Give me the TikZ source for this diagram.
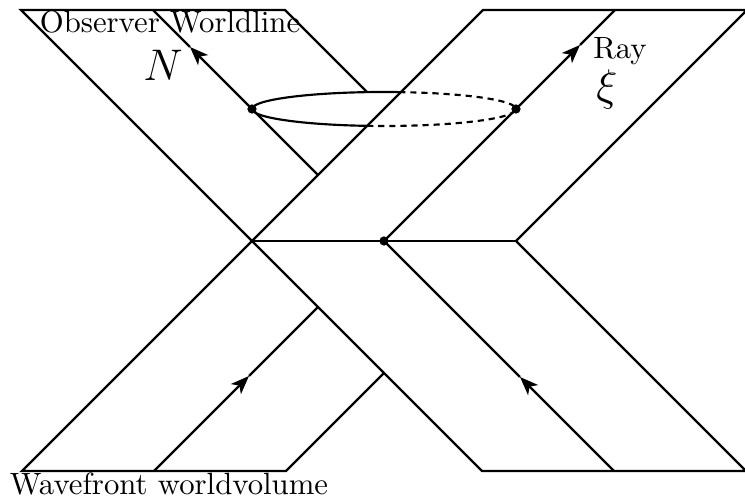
\documentclass[tikz,border=0pt]{standalone}
\usetikzlibrary{arrows.meta}
\begin{document}
\begin{tikzpicture}[x=0.325pt,y=0.325pt, line width=0.7pt, line join=miter,
  arr/.style={-{Stealth[length=6pt,width=4.6pt,inset=1.6pt]}},
  hid/.style={dash pattern=on 2pt off 1.6pt},
  dot/.style={circle,fill,inner sep=0pt,minimum size=3pt},
  lab/.style={inner sep=0pt, anchor=base}]
\useasboundingbox (0,0) rectangle (745,500);
% key points
\coordinate (O) at (252,259);
\coordinate (M) at (384,259);
\coordinate (R) at (516,259);
% upper-left sheet (observer)
\coordinate (ULa) at (21,490);
\coordinate (ULb) at (153,490);
\coordinate (ULc) at (285,490);
\coordinate (ULbEnd) at (318,325);
\coordinate (ULcEnd) at (367,408);
\coordinate (Ntip) at (190,453);
% upper-right sheet (ray)
\coordinate (URa) at (483,490);
\coordinate (URb) at (615,490);
\coordinate (URc) at (747,490);
\coordinate (Xtip) at (580,455);
% lower-left sheet
\coordinate (LLa) at (22,29);
\coordinate (LLb) at (154,29);
\coordinate (LLc) at (286,29);
\coordinate (LLbEnd) at (318,193);
\coordinate (LLcEnd) at (384,127);
\coordinate (LLtip) at (249,124);
% lower-right sheet
\coordinate (LRa) at (482,29);
\coordinate (LRb) at (614,29);
\coordinate (LRc) at (746,29);
\coordinate (LRtip) at (520,123);
% ellipse
\coordinate (C) at (384,391);

% upper-left sheet
\draw (O) -- (ULa) -- (ULc) -- (ULcEnd);
\draw[arr] (ULbEnd) -- (Ntip);
\draw (Ntip) -- (ULb);
% ellipse (solid front, dashed hidden)
\draw (C) ++(82.66:42.9pt and 5.525pt)
  arc[start angle=82.66, end angle=262.66, x radius=42.9pt, y radius=5.525pt];
\draw[hid] (C) ++(262.66:42.9pt and 5.525pt)
  arc[start angle=262.66, end angle=442.66, x radius=42.9pt, y radius=5.525pt];
% upper-right sheet
\draw (O) -- (URa) -- (URc) -- (R);
\draw[arr] (M) -- (Xtip);
\draw (Xtip) -- (URb);
% middle line
\draw (O) -- (R);
% lower-left sheet
\draw (O) -- (LLa) -- (LLc) -- (LLcEnd);
\draw[arr] (LLb) -- (LLtip);
\draw (LLtip) -- (LLbEnd);
% lower-right sheet
\draw (O) -- (LRa) -- (LRc) -- (R);
\draw[arr] (LRb) -- (LRtip);
\draw (LRtip) -- (M);

% dots
\node[dot] (d1) at (252,391) {};
\node[dot] (d2) at (516,391) {};
\node[dot] (d3) at (M) {};

% labels
\node[lab] (tObs) at (170,467) {Observer Worldline};
\node[inner sep=0pt] (tN) at (163,435) {\Large $N$};
\node[lab] (tRay) at (620,441) {Ray};
\node[lab] (tXi) at (607,399) {\Large $\xi$};
\node[lab] (tWave) at (169,5) {Wavefront worldvolume};
\end{tikzpicture}
\end{document}
